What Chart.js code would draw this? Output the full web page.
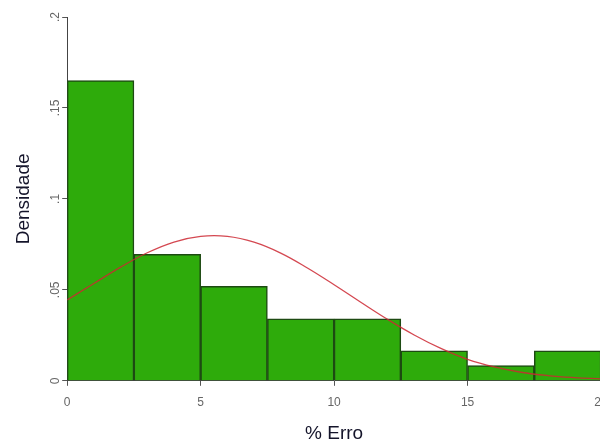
<!DOCTYPE html>
<html>
<head>
<meta charset="utf-8">
<script src="https://cdn.jsdelivr.net/npm/chart.js@4.4.0/dist/chart.umd.min.js"></script>
<style>
  html, body { margin: 0; padding: 0; background: #fff; overflow: hidden; }
  #wrap { width: 620px; height: 441px; }
</style>
</head>
<body>
<div id="wrap"><canvas id="histChart" width="620" height="441"></canvas></div>
<script>
// Histograma de % Erro (densidade) com curva normal
const binCenters = [1.25, 3.75, 6.25, 8.75, 11.25, 13.75, 16.25, 18.75];
const densidades = [0.165, 0.0695, 0.052, 0.034, 0.034, 0.0165, 0.0083, 0.0165];

// curva normal
const curvaX = [0, 1, 2, 3, 4, 5, 6, 7, 8, 9, 10, 11, 12, 13, 14, 15, 16, 17, 18, 19, 20];
const curvaY = [0.0445, 0.0535, 0.0625, 0.0704, 0.0763, 0.0794, 0.0794, 0.0762, 0.0702, 0.062, 0.0528,
                0.0432, 0.0338, 0.0252, 0.0178, 0.0118, 0.0076, 0.0047, 0.0029, 0.0018, 0.0011];

const xTicks = [0, 5, 10, 15, 20];
const yTicks = [0, 0.05, 0.1, 0.15, 0.2];
const yTickLabels = ["0", ".05", ".1", ".15", ".2"];

const ctx = document.getElementById("histChart").getContext("2d");
new Chart(ctx, {
    type: 'bar',
    data: {
        datasets: [
            {
                type: 'line',
                data: curvaX.map((x, i) => ({ x: x, y: curvaY[i] })),
                borderColor: 'rgba(205, 40, 50, 0.85)',
                borderWidth: 1.3,
                pointRadius: 0,
                tension: 0.4,
                fill: false,
                order: 0
            },
            {
                type: 'bar',
                data: binCenters.map((x, i) => ({ x: x, y: densidades[i] })),
                backgroundColor: '#2eab0b',
                borderColor: '#1d4a12',
                borderWidth: 1.5,
                barPercentage: 1,
                categoryPercentage: 1,
                grouped: false,
                order: 1
            }
        ]
    },
    options: {
        responsive: false,
        animation: false,
        layout: { padding: { top: 17, right: 19, left: 12, bottom: -4 } },
        plugins: { legend: { display: false }, tooltip: { enabled: false } },
        scales: {
            x: {
                type: 'linear',
                min: 0,
                max: 20,
                offset: false,
                afterBuildTicks: (axis) => { axis.ticks = xTicks.map(v => ({ value: v })); },
                ticks: { color: '#666', font: { family: 'Liberation Sans', size: 12 }, padding: 10, maxRotation: 0 },
                grid: { drawOnChartArea: false, drawTicks: true, tickLength: 5, color: '#555', offset: false },
                border: { display: true, color: '#444', width: 1 },
                title: {
                    display: true, text: '% Erro', color: '#14142a',
                    font: { family: 'Liberation Sans', size: 19 }, padding: { top: 2, bottom: 0 }
                }
            },
            y: {
                min: 0,
                max: 0.2,
                afterBuildTicks: (axis) => { axis.ticks = yTicks.map(v => ({ value: v })); },
                ticks: {
                    color: '#666', font: { family: 'Liberation Sans', size: 12 }, padding: -2,
                    minRotation: 90, maxRotation: 90, crossAlign: 'center',
                    callback: (v) => yTickLabels[yTicks.indexOf(v)]
                },
                grid: { drawOnChartArea: false, drawTicks: true, tickLength: 5, color: '#555' },
                border: { display: true, color: '#444', width: 1 },
                title: {
                    display: true, text: 'Densidade', color: '#14142a',
                    font: { family: 'Liberation Sans', size: 19 }, padding: { top: 0, bottom: 17 }
                }
            }
        }
    }
});
</script>
</body>
</html>
